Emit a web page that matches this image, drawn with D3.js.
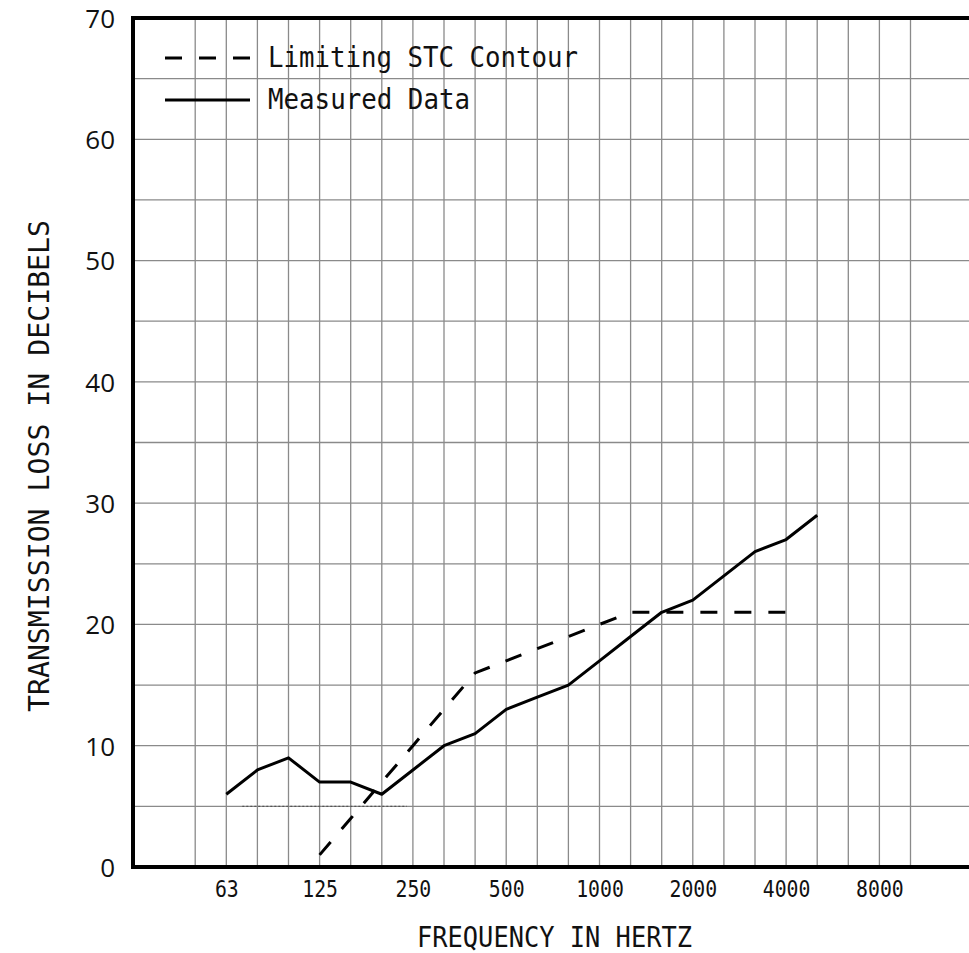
<!DOCTYPE html>
<html>
<head>
<meta charset="utf-8">
<script src="https://cdn.jsdelivr.net/npm/d3@7"></script>
<style>
  html, body { margin: 0; padding: 0; background: #fff; }
  svg { display: block; }
</style>
</head>
<body>
<script>
// ---------- data ----------
const bands = ["31.5","40","50","63","80","100","125","160","200","250","315","400","500","630","800","1000","1250","1600","2000","2500","3150","4000","5000","6300","8000","10000","12500","16000"];
const gridBands = ["50","63","80","100","125","160","200","250","315","400","500","630","800","1000","1250","1600","2000","2500","3150","4000","5000","6300","8000","10000"];
const xTickLabels = ["63","125","250","500","1000","2000","4000","8000"];
const yTickValues = [0,10,20,30,40,50,60,70];
const yGridValues = [5,10,15,20,25,30,35,40,45,50,55,60,65];

const measuredBands = ["63","80","100","125","160","200","250","315","400","500","630","800","1000","1250","1600","2000","2500","3150","4000","5000"];
const measuredValues = [6,8,9,7,7,6,8,10,11,13,14,15,17,19,21,22,24,26,27,29];

const contourBands = ["125","160","200","250","315","400","500","630","800","1000","1250","1600","2000","2500","3150","4000"];
const contourValues = [1,4,7,10,13,16,17,18,19,20,21,21,21,21,21,21];

const dottedBands = ["63","250"];
const dottedValues = [5,5];

const legendLabels = ["Limiting STC Contour","Measured Data"];
const xTitle = "FREQUENCY IN HERTZ";
const yTitle = "TRANSMISSION LOSS IN DECIBELS";

// ---------- setup ----------
const W = 969, H = 953;
const svg = d3.select("body").append("svg").attr("width", W).attr("height", H);

const x = d3.scalePoint().domain(bands).range([133, 133 + 27 * 31.1]);
const y = d3.scaleLinear().domain([0, 70]).range([867, 18]);

const mono = "'DejaVu Sans Mono', 'Liberation Mono', monospace";

// grid
const grid = svg.append("g").attr("stroke", "#8a8a8a").attr("stroke-width", 1.3);
grid.selectAll("line.v").data(gridBands).join("line")
  .attr("class", "v")
  .attr("x1", d => x(d)).attr("x2", d => x(d))
  .attr("y1", y(70)).attr("y2", y(0));
grid.selectAll("line.h").data(yGridValues).join("line")
  .attr("class", "h")
  .attr("x1", x("31.5")).attr("x2", x("16000"))
  .attr("y1", d => y(d)).attr("y2", d => y(d));

// faint dotted trace at 5 dB (slightly inset from the band lines)
const dotted = d3.zip(dottedBands, dottedValues);
svg.append("line")
  .attr("x1", x(dotted[0][0]) + 16).attr("x2", x(dotted[1][0]) - 6)
  .attr("y1", y(dotted[0][1])).attr("y2", y(dotted[1][1]))
  .attr("stroke", "#555").attr("stroke-width", 1.3)
  .attr("stroke-dasharray", "2,2");

// data lines
const line = d3.line().x(d => x(d[0])).y(d => y(d[1]));
svg.append("path")
  .datum(d3.zip(contourBands, contourValues))
  .attr("d", line)
  .attr("fill", "none").attr("stroke", "#000").attr("stroke-width", 3)
  .attr("stroke-dasharray", "17,17");

svg.append("path")
  .datum(d3.zip(measuredBands, measuredValues))
  .attr("d", line)
  .attr("fill", "none").attr("stroke", "#000").attr("stroke-width", 3)
  .attr("stroke-linejoin", "round");

// frame
svg.append("rect")
  .attr("x", x("31.5")).attr("y", y(70))
  .attr("width", x("16000") - x("31.5")).attr("height", y(0) - y(70))
  .attr("fill", "none").attr("stroke", "#000").attr("stroke-width", 4);

// y axis
const yAxis = svg.append("g")
  .attr("transform", `translate(${x("31.5")},0)`)
  .call(d3.axisLeft(y).tickValues(yTickValues).tickSize(0).tickPadding(18).tickFormat(d3.format("d")));
yAxis.select(".domain").remove();
yAxis.selectAll("text")
  .attr("font-family", "'Open Sans', 'Noto Sans', sans-serif")
  .attr("font-size", 26).attr("fill", "#111")
  .attr("dy", "0.36em");

// x axis
const xAxis = svg.append("g")
  .attr("transform", `translate(0,${y(0)})`)
  .call(d3.axisBottom(x).tickValues(xTickLabels).tickSize(0).tickPadding(0));
xAxis.select(".domain").remove();
xAxis.selectAll("text")
  .attr("font-family", mono).attr("font-size", 23).attr("fill", "#111")
  .attr("y", 30).attr("dy", 0)
  .attr("transform", "scale(0.86,1)");

// axis titles
svg.append("text")
  .attr("x", 417).attr("y", 947)
  .attr("font-family", mono).attr("font-size", 29).attr("fill", "#111")
  .attr("textLength", 275).attr("lengthAdjust", "spacingAndGlyphs")
  .text(xTitle);

svg.append("text")
  .attr("transform", "translate(49,712) rotate(-90)")
  .attr("font-family", mono).attr("font-size", 28.5).attr("fill", "#111")
  .attr("textLength", 492).attr("lengthAdjust", "spacingAndGlyphs")
  .text(yTitle);

// legend
const legend = svg.append("g");
const legendStyles = ["17,17", null];
const legendY = [58, 100];
const legendTextW = [310, 202];
legend.selectAll("line").data(legendLabels).join("line")
  .attr("x1", 165).attr("x2", 250)
  .attr("y1", (d, i) => legendY[i]).attr("y2", (d, i) => legendY[i])
  .attr("stroke", "#000").attr("stroke-width", 3)
  .attr("stroke-dasharray", (d, i) => legendStyles[i]);
legend.selectAll("text").data(legendLabels).join("text")
  .attr("x", 268).attr("y", (d, i) => legendY[i] + 9)
  .attr("font-family", mono).attr("font-size", 27.5).attr("fill", "#111")
  .attr("textLength", (d, i) => legendTextW[i]).attr("lengthAdjust", "spacingAndGlyphs")
  .text(d => d);
</script>
</body>
</html>
